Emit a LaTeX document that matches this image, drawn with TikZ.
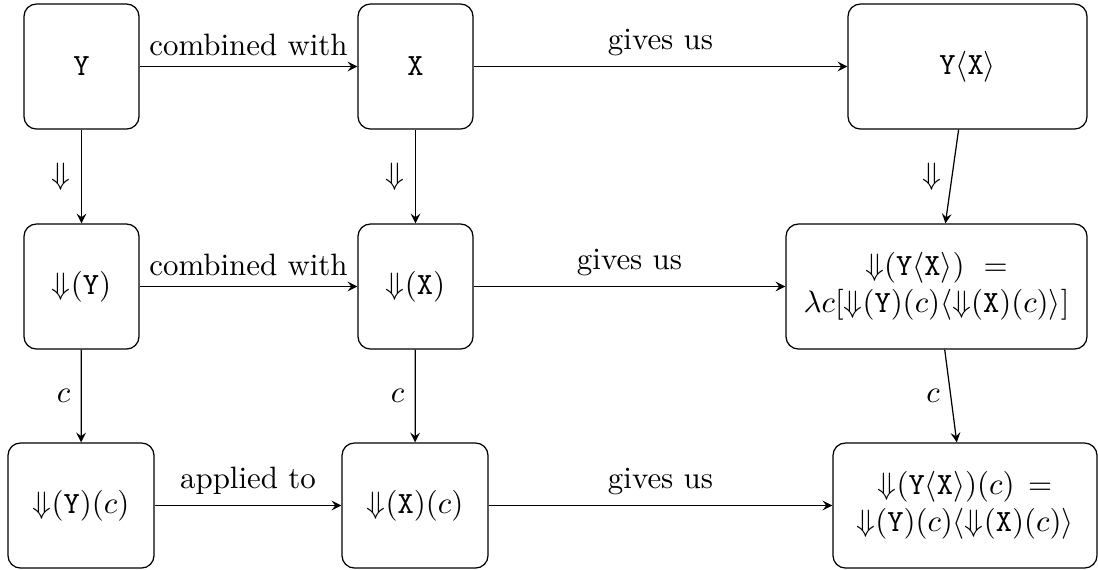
\documentclass[tikz,border=0pt]{standalone}
\usepackage{amsmath}
\usetikzlibrary{arrows}
\newcommand{\px}{0.3236pt}
\newcommand{\dn}{\mathord{\Downarrow}}
\begin{document}
\begin{tikzpicture}[x=\px, y=-\px,
  box/.style={draw, rounded corners=4pt, align=center, inner sep=2pt},
  conn/.style={-stealth},
  lab/.style={midway, above},
  vlab/.style={midway, left}]
\useasboundingbox (0,0) rectangle (1098,569);

% top row
\node[box, minimum width={115*\px}, minimum height={125*\px}] (y)  at (81.5,66.5)  {$\texttt{Y}$};
\node[box, minimum width={115*\px}, minimum height={125*\px}] (x)  at (415.5,66.5) {$\texttt{X}$};
\node[box, minimum width={239*\px}, minimum height={125*\px}] (yx) at (967.5,66.5) {$\texttt{Y}\langle\texttt{X}\rangle$};

% middle row
\node[box, minimum width={115*\px}, minimum height={125*\px}] (dy)  at (81.5,286.5)  {$\dn(\texttt{Y})$};
\node[box, minimum width={115*\px}, minimum height={125*\px}] (dx)  at (415.5,286.5) {$\dn(\texttt{X})$};
\node[box, minimum width={301*\px}, minimum height={125*\px}] (dyx) at (936.5,286.5)
  {$\dn(\texttt{Y}\langle\texttt{X}\rangle)\ =$\\
   $\lambda c[\dn(\texttt{Y})(c)\langle\dn(\texttt{X})(c)\rangle]$};

% bottom row
\node[box, minimum width={146*\px}, minimum height={125*\px}] (dyc)  at (81,505.5)  {$\dn(\texttt{Y})(c)$};
\node[box, minimum width={146*\px}, minimum height={125*\px}] (dxc)  at (415,505.5) {$\dn(\texttt{X})(c)$};
\node[box, minimum width={264*\px}, minimum height={125*\px}] (dyxc) at (965,505.5)
  {$\dn(\texttt{Y}\langle\texttt{X}\rangle)(c)\,=$\\
   $\dn(\texttt{Y})(c)\langle\dn(\texttt{X})(c)\rangle$};

% horizontal connectors
\draw[conn] (y) -- node[lab] {combined with} (x);
\draw[conn] (x) -- node[lab] {gives us} (yx);
\draw[conn] (dy) -- node[lab] {combined with} (dx);
\draw[conn] (dx) -- node[lab] {gives us} (dyx);
\draw[conn] (dyc) -- node[lab] {applied to} (dxc);
\draw[conn] (dxc) -- node[lab] {gives us} (dyxc);

% vertical connectors
\draw[conn] (y) -- node[vlab] {$\Downarrow$} (dy);
\draw[conn] (x) -- node[vlab] {$\Downarrow$} (dx);
\draw[conn] (yx) -- node[vlab] {$\Downarrow$} (dyx);
\draw[conn] (dy) -- node[vlab] {$c$} (dyc);
\draw[conn] (dx) -- node[vlab] {$c$} (dxc);
\draw[conn] (dyx) -- node[vlab] {$c$} (dyxc);
\end{tikzpicture}
\end{document}
